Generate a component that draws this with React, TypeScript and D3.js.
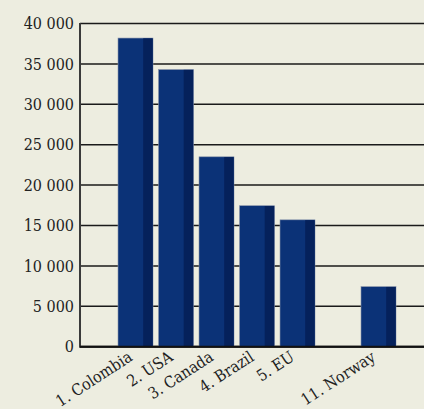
import React from "react";
import * as d3 from "d3";

const categories = ["1. Colombia", "2. USA", "3. Canada", "4. Brazil", "5. EU", "", "11. Norway"];
const values = [38200, 34300, 23500, 17450, 15700, null, 7430];
const yTicks = [0, 5000, 10000, 15000, 20000, 25000, 30000, 35000, 40000];

const W = 424;
const H = 409;

export default function App() {
  const y = d3.scaleLinear().domain([0, 40000]).range([346.7, 23.5]);
  const slots = categories.map((_, i) => String(i));
  const step = 40.5;
  const pIn = 5.5 / step;
  const x = d3
    .scaleBand<string>()
    .domain(slots)
    .range([118 - (step * pIn) / 2, 118 - (step * pIn) / 2 + slots.length * step])
    .paddingInner(pIn)
    .paddingOuter(pIn / 2);
  const bw = x.bandwidth();
  const fmt = (v: number) => d3.format(",")(v).replace(/,/g, " ");
  const font = "'DejaVu Serif Condensed', 'DejaVu Serif', serif";

  return (
    <svg
      width={W}
      height={H}
      style={{ position: "absolute", left: 0, top: 0, background: "#EDEDE0" }}
    >
      <rect x={0} y={0} width={W} height={H} fill="#EDEDE0" />
      {yTicks.map((t) => (
        <g key={t}>
          <line
            x1={80}
            x2={W}
            y1={y(t)}
            y2={y(t)}
            stroke="#1a1a1a"
            strokeWidth={t === 0 ? 2 : 1.5}
          />
          <text
            x={74}
            y={y(t)}
            dy="0.36em"
            textAnchor="end"
            fontFamily={font}
            fontStretch="condensed"
            fontSize={16}
            fill="#222"
          >
            {fmt(t)}
          </text>
        </g>
      ))}
      <line x1={80} x2={80} y1={y(40000) - 0.5} y2={y(0) + 1} stroke="#3a3a3a" strokeWidth={2} />
      {values.map((v, i) =>
        v == null ? null : (
          <g key={i}>
            <rect
              x={x(String(i))!}
              y={y(v)}
              width={bw}
              height={y(0) - y(v)}
              fill="#0B3277"
              stroke="#8a94aa"
              strokeWidth={0.6}
            />
            <rect
              x={x(String(i))! + bw * 0.72}
              y={y(v) + 0.3}
              width={bw * 0.28 - 0.3}
              height={y(0) - y(v) - 0.3}
              fill="#05215B"
            />
          </g>
        )
      )}
      <line x1={80} x2={W} y1={y(0)} y2={y(0)} stroke="#111" strokeWidth={2} />
      {categories.map((c, i) =>
        c ? (
          <text
            key={i}
            transform={`translate(${x(String(i))! + bw / 2 - 2},${y(0) + 13}) rotate(-33)`}
            textAnchor="end"
            fontFamily={font}
            fontStretch="condensed"
            fontSize={16}
            fill="#222"
          >
            {c}
          </text>
        ) : null
      )}
    </svg>
  );
}
